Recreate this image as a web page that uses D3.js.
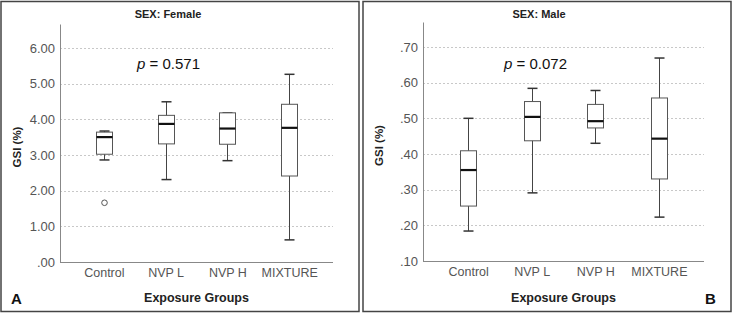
<!DOCTYPE html>
<html>
<head>
<meta charset="utf-8">
<script src="https://cdn.jsdelivr.net/npm/d3@7"></script>
<style>
  body { margin: 0; background: #fff; }
  svg { font-family: "Liberation Sans", Arial, sans-serif; }
</style>
</head>
<body>
<svg id="chart" width="733" height="314"></svg>
<script>
// groups on the x axis
var groups = ["Control", "NVP L", "NVP H", "MIXTURE"];

// female GSI (%) box stats: [whisker low, Q1, median, Q3, whisker high]
var femaleStats = [
  [2.86, 3.02, 3.50, 3.64, 3.67],
  [2.31, 3.31, 3.87, 4.11, 4.49],
  [2.84, 3.30, 3.74, 4.18, 4.18],
  [0.62, 2.41, 3.76, 4.42, 5.26]
];
var femaleOutliers = [{ group: "Control", value: 1.66 }];
var femaleTicks = [0, 1, 2, 3, 4, 5, 6];

// male GSI (%) box stats
var maleStats = [
  [0.184, 0.254, 0.355, 0.409, 0.500],
  [0.291, 0.437, 0.504, 0.547, 0.584],
  [0.430, 0.473, 0.492, 0.539, 0.578],
  [0.223, 0.330, 0.443, 0.557, 0.669]
];
var maleOutliers = [];
var maleTicks = [0.1, 0.2, 0.3, 0.4, 0.5, 0.6, 0.7];

var svg = d3.select("#chart");

function fmt(v) {
  // SPSS style labels: ".70", "6.00"
  var s = v.toFixed(2);
  return s.charAt(0) === "0" ? s.slice(1) : s;
}

function panel(opt) {
  var g = svg.append("g").attr("transform", "translate(" + opt.x0 + ",0)");

  // frame
  g.append("rect")
    .attr("x", 1).attr("y", 1.5)
    .attr("width", opt.w - 2).attr("height", 310)
    .attr("fill", "none").attr("stroke", "#444").attr("stroke-width", 1.5);

  var left = opt.left, right = opt.right, top = opt.top, bottom = opt.bottom;

  var x = d3.scalePoint().domain(groups).range([left, right]).padding(0.71);
  var y = d3.scaleLinear().domain(opt.domain).range([bottom, top]);

  // grid
  g.selectAll(".grid")
    .data(opt.ticks.filter(function (d) { return d !== opt.domain[0]; }))
    .enter().append("line")
    .attr("x1", left).attr("x2", right)
    .attr("y1", function (d) { return Math.round(y(d)) + 0.5; })
    .attr("y2", function (d) { return Math.round(y(d)) + 0.5; })
    .attr("stroke", "#c8c8c8").attr("stroke-dasharray", "2,2");

  // y axis
  var yAxis = g.append("g")
    .attr("transform", "translate(" + left + ",0)")
    .call(d3.axisLeft(y).tickValues(opt.ticks).tickSize(0).tickPadding(5).tickFormat(fmt));
  yAxis.select(".domain").attr("stroke", "#888");
  yAxis.selectAll("text").attr("fill", "#555").style("font-size", "13px");

  // x axis
  var xAxis = g.append("g")
    .attr("transform", "translate(0," + bottom + ")")
    .call(d3.axisBottom(x).tickSize(0).tickPadding(6));
  xAxis.select(".domain").attr("stroke", "#888").attr("d", "M" + left + ",0.5H" + right);
  xAxis.selectAll("text").attr("fill", "#555").style("font-size", "12.5px");

  // boxes
  var bw = 16, cap = 9;
  var box = g.selectAll(".box")
    .data(opt.stats)
    .enter().append("g")
    .attr("transform", function (d, i) { return "translate(" + Math.round(x(groups[i])) + ",0)"; });

  box.append("line")
    .attr("x1", 0.5).attr("x2", 0.5)
    .attr("y1", function (d) { return y(d[4]); })
    .attr("y2", function (d) { return y(d[0]); })
    .attr("stroke", "#444");
  box.append("line")
    .attr("x1", -cap / 2).attr("x2", cap / 2 + 1)
    .attr("y1", function (d) { return y(d[4]); })
    .attr("y2", function (d) { return y(d[4]); })
    .attr("stroke", "#333").attr("stroke-width", 1.5);
  box.append("line")
    .attr("x1", -cap / 2).attr("x2", cap / 2 + 1)
    .attr("y1", function (d) { return y(d[0]); })
    .attr("y2", function (d) { return y(d[0]); })
    .attr("stroke", "#333").attr("stroke-width", 1.5);
  box.append("rect")
    .attr("x", -bw / 2 + 0.5).attr("width", bw)
    .attr("y", function (d) { return y(d[3]); })
    .attr("height", function (d) { return y(d[1]) - y(d[3]); })
    .attr("fill", "#fff").attr("stroke", "#555");
  box.append("line")
    .attr("x1", -bw / 2 + 0.5).attr("x2", bw / 2 + 0.5)
    .attr("y1", function (d) { return y(d[2]); })
    .attr("y2", function (d) { return y(d[2]); })
    .attr("stroke", "#111").attr("stroke-width", 2.2);

  // outliers
  g.selectAll(".out")
    .data(opt.outliers)
    .enter().append("circle")
    .attr("cx", function (d) { return Math.round(x(d.group)) + 0.5; })
    .attr("cy", function (d) { return y(d.value); })
    .attr("r", 2.8)
    .attr("fill", "#fff").attr("stroke", "#555");

  // texts
  g.append("text")
    .attr("x", opt.titleX).attr("y", 18)
    .attr("text-anchor", "middle")
    .style("font-size", "11px").style("font-weight", "bold").attr("fill", "#222")
    .text(opt.title);

  var p = g.append("text")
    .attr("x", opt.pX).attr("y", 69)
    .style("font-size", "15px").attr("fill", "#111");
  p.append("tspan").style("font-style", "italic").text("p");
  p.append("tspan").text(" = " + opt.p);

  g.append("text")
    .attr("transform", "translate(21," + ((top + bottom) / 2 + 4) + ") rotate(-90)")
    .attr("text-anchor", "middle")
    .style("font-size", "11.5px").style("font-weight", "bold").attr("fill", "#222")
    .text("GSI (%)");

  g.append("text")
    .attr("x", (left + right) / 2).attr("y", 302)
    .attr("text-anchor", "middle")
    .style("font-size", "12.5px").style("font-weight", "bold").attr("fill", "#222")
    .text("Exposure Groups");

  g.append("text")
    .attr("x", opt.letterX).attr("y", 304)
    .style("font-size", "15px").style("font-weight", "bold").attr("fill", "#111")
    .text(opt.letter);
}

panel({
  x0: 0, w: 360,
  left: 60, right: 333, top: 24, bottom: 262,
  domain: [0, 6.67], ticks: femaleTicks,
  stats: femaleStats, outliers: femaleOutliers,
  title: "SEX: Female", titleX: 168, p: "0.571", pX: 137,
  letter: "A", letterX: 11
});

panel({
  x0: 362, w: 370,
  left: 61, right: 342, top: 22, bottom: 261,
  domain: [0.1, 0.77], ticks: maleTicks,
  stats: maleStats, outliers: maleOutliers,
  title: "SEX: Male", titleX: 177, p: "0.072", pX: 142,
  letter: "B", letterX: 343
});
</script>
</body>
</html>
